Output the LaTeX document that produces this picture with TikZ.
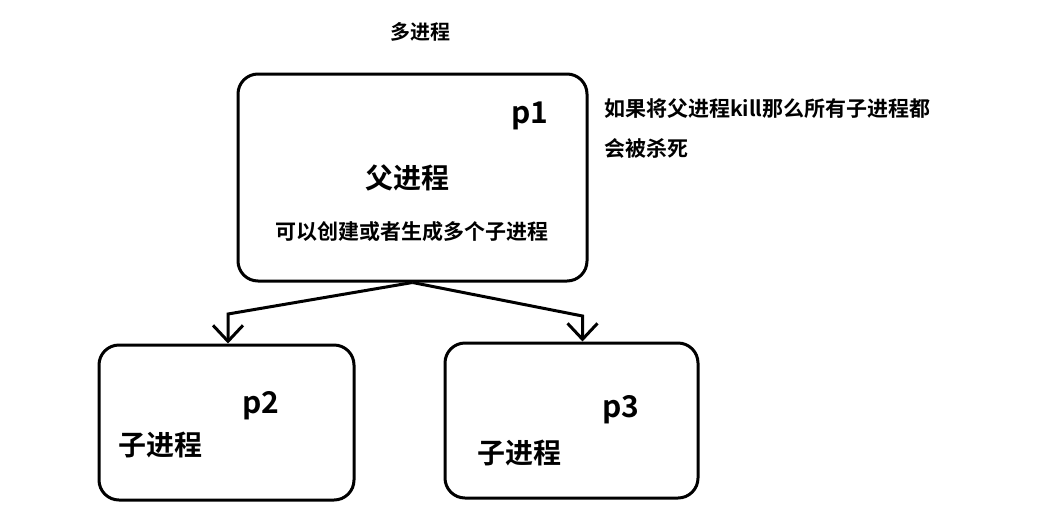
\documentclass[tikz,border=0pt]{standalone}
\usepackage{fontspec}
\newfontfamily\cjk[BoldFont={Noto Sans CJK SC Bold}]{Noto Sans CJK SC}
\usetikzlibrary{arrows.meta,positioning}

\tikzset{
  procbox/.style={draw,line width=3pt,rounded corners=20pt},
  arr/.style={line width=3pt,-{Straight Barb[length=16pt,width=30pt,line width=3pt]}},
  lbl/.style={inner sep=0pt,font=\cjk\bfseries}
}

\begin{document}
\begin{tikzpicture}[x=1pt,y=-1pt]
      \useasboundingbox (0,0) rectangle (1041,528);
      \node[procbox,minimum width=349pt,minimum height=207pt] (p1) at (412.5,177.5) {};
      \node[procbox,minimum width=255pt,minimum height=155pt] (c2) at (226.5,422.5) {};
      \node[procbox,minimum width=253pt,minimum height=155pt] (c3) at (571.5,420.5) {};
      % texts
      \node[lbl,font=\cjk\bfseries\fontsize{20}{24}\selectfont] (title) at (420,32) {多进程};
      \node[lbl,font=\cjk\bfseries\fontsize{30}{36}\selectfont] (n1) at (530,116) {p1};
      \node[lbl,font=\cjk\bfseries\fontsize{28}{34}\selectfont] (f1) at (407,178) {父进程};
      \node[lbl,font=\cjk\bfseries\fontsize{21}{25}\selectfont] (d1) at (412,232) {可以创建或者生成多个子进程};
      \node[lbl,font=\cjk\bfseries\fontsize{21}{40}\selectfont,align=left,anchor=north west] (note) at (604,98) {如果将父进程kill那么所有子进程都\\会被杀死};
      \node[lbl,font=\cjk\bfseries\fontsize{30}{36}\selectfont] (n2) at (261,406) {p2};
      \node[lbl,font=\cjk\bfseries\fontsize{28}{34}\selectfont,anchor=west] (s2) at (118,445) {子进程};
      \node[lbl,font=\cjk\bfseries\fontsize{30}{36}\selectfont] (n3) at (621,410) {p3};
      \node[lbl,font=\cjk\bfseries\fontsize{28}{34}\selectfont,anchor=west] (s3) at (477,453) {子进程};
      % connectors
      \draw[arr] (p1.south) -- ([xshift=1.5pt]c2.north |- 0,314) -- ([xshift=1.5pt]c2.north);
      \draw[arr] (p1.south) -- ([xshift=11pt]c3.north |- 0,316) -- ([xshift=11pt]c3.north);
\end{tikzpicture}
\end{document}
